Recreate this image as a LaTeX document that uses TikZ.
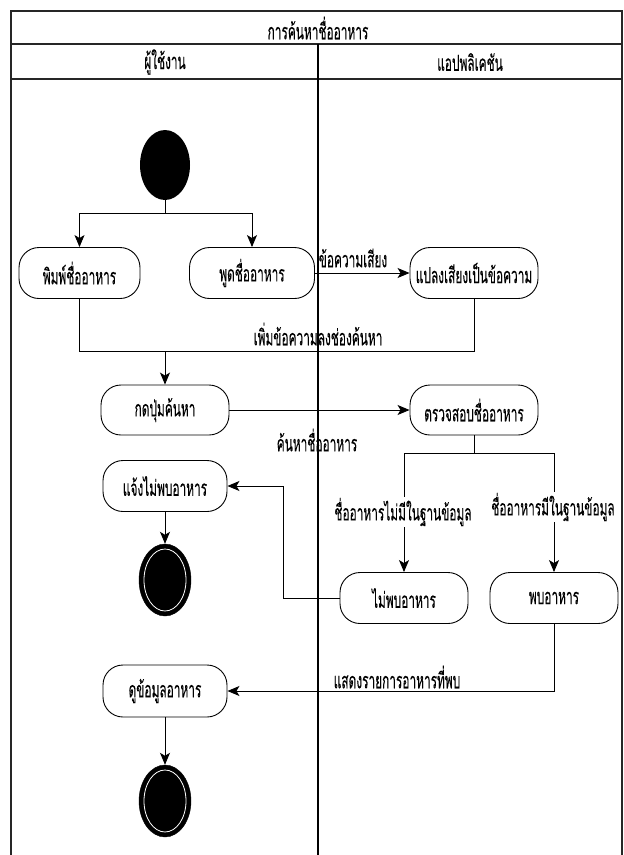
\documentclass[tikz,border=0pt]{standalone}
\usepackage{fontspec}
\newfontfamily\thaifont[Script=Thai,FakeStretch=0.54,FakeBold=0.12]{Loma}
\usetikzlibrary{arrows.meta,shapes.geometric}
\tikzset{
  act/.style={draw=black, line width=0.9pt, rectangle, rounded corners=20pt, fill=white,
    minimum width=126pt, minimum height=51pt, inner sep=2pt, font=\thaifont\fontsize{22}{24}\selectfont},
  startnode/.style={draw=none, ellipse, fill=black, minimum width=50pt, minimum height=70pt, inner sep=0pt},
  endnode/.style={ellipse, fill=black, draw=black, minimum width=52pt, minimum height=72pt, inner sep=0pt},
  flow/.style={line width=0.9pt, -{Stealth[length=12pt,width=10pt,inset=3pt]}},
  line/.style={line width=0.9pt},
  lbl/.style={font=\thaifont\fontsize{22}{24}\selectfont, inner sep=1pt},
  frame/.style={line width=1.3pt, draw=black!85},
}
\begin{document}
\begin{tikzpicture}[x=1pt,y=-1pt]
\useasboundingbox (0,0) rectangle (624,855);
% frame
\draw[frame] (11,855) -- (11,11) -- (622,11) -- (622,855);
\draw[frame] (11,44) -- (622,44);
\draw[frame] (11,79) -- (622,79);
\draw[line width=1.8pt] (318,44) -- (318,855);
\node[lbl] (title) at (318,28) {การค้นหาชื่ออาหาร};
\node[lbl] (laneA) at (165,62) {ผู้ใช้งาน};
\node[lbl] (laneB) at (470,62) {แอปพลิเคชัน};

% nodes
\node[startnode] (start) at (165,165) {};
\node[act, minimum width=121pt] (n1) at (79.5,273) {พิมพ์ชื่ออาหาร};
\node[act, minimum width=125pt] (n2) at (252,273) {พูดชื่ออาหาร};
\node[act, minimum width=128pt] (n3) at (474,273) {แปลงเสียงเป็นข้อความ};
\node[act, minimum width=128pt, minimum height=50pt] (n4) at (165,410) {กดปุ่มค้นหา};
\node[act, minimum width=128pt, minimum height=50pt] (n5) at (474,410) {ตรวจสอบชื่ออาหาร};
\node[act, minimum width=124pt] (n6) at (165,486) {แจ้งไม่พบอาหาร};
\node[endnode] (end1) at (165,580) {};
\draw[white, line width=0.8pt] (165,580) ellipse (21pt and 31pt);
\node[act, minimum width=128pt] (n7) at (404,598) {ไม่พบอาหาร};
\node[act, minimum width=128pt] (n8) at (554,598) {พบอาหาร};
\node[act, minimum width=124pt, minimum height=52pt] (n9) at (165,691) {ดูข้อมูลอาหาร};
\node[endnode] (end2) at (165,801) {};
\draw[white, line width=0.8pt] (165,801) ellipse (21pt and 31pt);

% coordinates
\coordinate (fork) at (165,213);
\coordinate (join) at (165,351);
\coordinate (dec) at (474,453);
\coordinate (back) at (283,598);
\coordinate (found) at (554,691);

% connectors
\draw[line] (start.south) -- (fork);
\draw[flow] (fork) -| (n1.north);
\draw[flow] (fork) -| (n2.north);
\draw[flow] (n2.east) -- (n3.west);
\node[lbl] (l1) at (353,258) {ข้อความเสียง};
\draw[line] (n1.south) |- (join);
\draw[line] (n3.south) |- (join);
\draw[flow] (join) -- (n4.north);
\node[lbl] (l2) at (318,334) {เพิ่มข้อความลงช่องค้นหา};
\draw[flow] (n4.east) -- (n5.west);
\node[lbl] (l3) at (317,440) {ค้นหาชื่ออาหาร};
\draw[line] (n5.south) -- (dec);
\draw[flow] (dec) -| (n7.north);
\draw[flow] (dec) -| (n8.north);
\node[lbl, fill=white] (l4) at (403,512) {ชื่ออาหารไม่มีในฐานข้อมูล};
\node[lbl, fill=white] (l5) at (553,507) {ชื่ออาหารมีในฐานข้อมูล};
\draw[flow] (n7.west) -- (back) |- (n6.east);
\draw[flow] (n6.south) -- (end1.north);
\draw[flow] (n8.south) -- (found) -- (n9.east);
\node[lbl] (l6) at (397,677) {แสดงรายการอาหารที่พบ};
\draw[flow] (n9.south) -- (end2.north);
\end{tikzpicture}
\end{document}
